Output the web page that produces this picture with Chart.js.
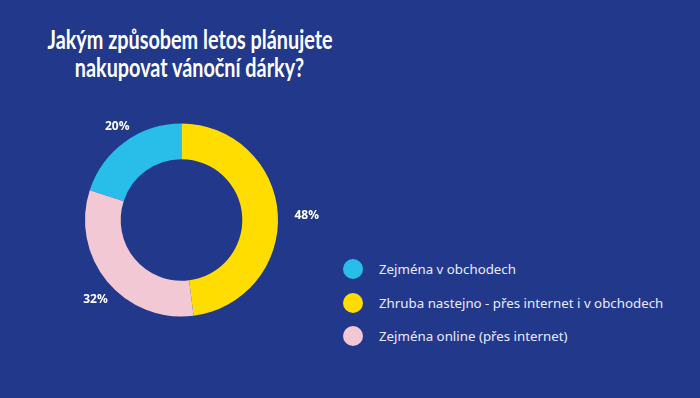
<!DOCTYPE html>
<html>
<head>
<meta charset="utf-8">
<script src="https://cdn.jsdelivr.net/npm/chart.js@4/dist/chart.umd.min.js"></script>
<style>
  html, body { margin: 0; padding: 0; }
  body { width: 700px; height: 398px; background: #22398b; position: relative; overflow: hidden; }
  #title {
    position: absolute; left: -60px; top: 25px; width: 500px; margin: 0;
    font-family: Lato, "Open Sans", sans-serif;
    font-weight: bold; font-size: 26px; line-height: 28px; color: #fff; text-align: center;
  }
  #title span { display: inline-block; white-space: nowrap; transform-origin: center; }
  #legend { position: absolute; left: 343px; top: 259px; margin: 0; padding: 0; list-style: none; }
  #legend li {
    height: 33.5px; display: flex; align-items: flex-start;
    font-family: "Noto Sans", sans-serif; font-size: 13.3px; color: #e9e9ff;
  }
  #legend span.dot { width: 20px; height: 20px; border-radius: 50%; margin-right: 16px; flex: none; }
  #legend span.txt { line-height: 20px; }
  canvas { position: absolute; left: 0; top: 0; }
</style>
</head>
<body>
<h1 id="title"><span>Jakým způsobem letos plánujete</span><br><span>nakupovat vánoční dárky?</span></h1>
<ul id="legend"></ul>
<canvas id="chart" width="700" height="398"></canvas>
<script>
const labels = ["Zejména v obchodech", "Zhruba nastejno - přes internet i v obchodech", "Zejména online (přes internet)"];
const values = [20, 48, 32];
const colors = ["#29bde9", "#ffdd00", "#f3c8d5"];

// nadpis je v originale zuzeny
const titleLines = document.querySelectorAll("#title span");
const squeeze = 285 / titleLines[0].getBoundingClientRect().width;
titleLines.forEach(s => { s.style.transform = "scaleX(" + squeeze + ")"; });

// legenda
const legend = document.getElementById("legend");
labels.forEach((l, i) => {
  const li = document.createElement("li");
  li.innerHTML = '<span class="dot" style="background:' + colors[i] + '"></span><span class="txt">' + l + '</span>';
  legend.appendChild(li);
});

// popisky procent kolem prstence
const percentLabels = {
  id: "percentLabels",
  afterDatasetsDraw(chart) {
    const ctx = chart.ctx;
    const meta = chart.getDatasetMeta(0);
    ctx.save();
    ctx.fillStyle = "#ffffff";
    ctx.font = "bold 12px 'Open Sans', sans-serif";
    ctx.textAlign = "center";
    ctx.textBaseline = "middle";
    meta.data.forEach((arc, i) => {
      const p = arc.getProps(["x", "y", "startAngle", "endAngle", "outerRadius"], true);
      const mid = (p.startAngle + p.endAngle) / 2;
      const r = p.outerRadius + 23;
      ctx.fillText(values[i] + "%", p.x + 6 + Math.cos(mid) * r, p.y + 3 + Math.sin(mid) * r);
    });
    ctx.restore();
  }
};

new Chart(document.getElementById("chart"), {
  type: "doughnut",
  data: {
    labels: labels,
    datasets: [{
      data: values,
      backgroundColor: colors,
      borderWidth: 0,
    }]
  },
  options: {
    responsive: false,
    animation: false,
    cutout: "63%",
    rotation: -72,
    layout: { padding: { left: 85, right: 422, top: 123.5, bottom: 81.5 } },
    plugins: {
      legend: { display: false },
      tooltip: { enabled: false },
    }
  },
  plugins: [percentLabels]
});
</script>
</body>
</html>
